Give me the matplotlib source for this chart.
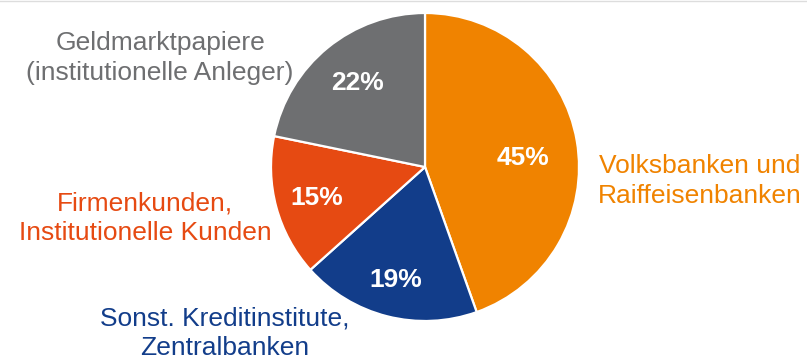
import matplotlib.pyplot as plt
from matplotlib.lines import Line2D

plt.rcParams['font.family'] = ['Liberation Sans', 'DejaVu Sans']

# Shares by investor group (clockwise from the top)
categories = ['Volksbanken und\nRaiffeisenbanken',
              'Sonst. Kreditinstitute,\nZentralbanken',
              'Firmenkunden,\nInstitutionelle Kunden',
              'Geldmarktpapiere\n(institutionelle Anleger)']
shares = [45, 19, 15, 22]
colors = ['#F08300', '#123D8A', '#E64A12', '#6E6F71']

# label anchor points in pixels (x, y from top)
label_px = [(700, 181), (225, 333), (145, 218), (160, 58)]
pct_px = [(523, 158), (396, 280), (317, 198), (357, 83)]

W, H = 807, 360
cx, cy, r = 425, 167, 154


def to_data(px, py):
    return (px - cx) / r, (cy - py) / r


fig = plt.figure(figsize=(W / 100, H / 100), dpi=100)
ax = fig.add_axes([0, 0, 1, 1])

wedges, texts, autotexts = ax.pie(
    shares, colors=colors, startangle=90, counterclock=False,
    autopct=lambda p: f'{p:.0f}%', pctdistance=0.68,
    wedgeprops=dict(edgecolor='white', linewidth=1.6),
    textprops=dict(color='white', fontsize=19, fontweight='bold'))

# pie() resets the limits, so set them afterwards
ax.set_xlim(-cx / r, (W - cx) / r)
ax.set_ylim((cy - H) / r, cy / r)
ax.set_aspect('equal', adjustable='datalim')
ax.axis('off')

# show the given shares and nudge the labels inside the wedges
for t, s, (px, py) in zip(autotexts, shares, pct_px):
    t.set_text(f'{s}%')
    t.set_position(to_data(px, py))

for name, col, (px, py) in zip(categories, colors, label_px):
    x, y = to_data(px, py)
    ax.text(x, y, name, color=col, fontsize=19, ha='center', va='center',
            linespacing=1.3)

fig.add_artist(Line2D([0, 1], [0.998, 0.998], transform=fig.transFigure,
                      color='#DDDDDD', linewidth=1))

fig.savefig('out.png', dpi=100)
